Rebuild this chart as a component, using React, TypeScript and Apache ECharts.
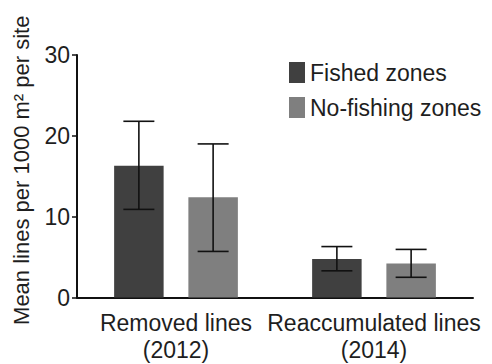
import React, { useEffect, useRef } from "react";
import * as echarts from "echarts";

const categories = ["Removed lines\n(2012)", "Reaccumulated lines\n(2014)"];
const seriesNames = ["Fished zones", "No-fishing zones"];
const fishedMean = [16.3, 4.75];
const fishedLow = [10.9, 3.3];
const fishedHigh = [21.8, 6.3];
const noFishMean = [12.4, 4.2];
const noFishLow = [5.7, 2.5];
const noFishHigh = [19.0, 5.95];
const yTicks = [0, 10, 20, 30];

const FONT = "'Liberation Sans', Arial, Helvetica, sans-serif";
const TEXT = "#1e1e1e";

export default function App() {
  const ref = useRef<HTMLDivElement>(null);
  useEffect(() => {
    if (!ref.current) return;
    const chart = echarts.init(ref.current, null, { renderer: "svg" });
    const errData: number[][] = [];
    categories.forEach((_, i) => {
      errData.push([i, fishedLow[i], fishedHigh[i], -1]);
      errData.push([i, noFishLow[i], noFishHigh[i], 1]);
    });
    chart.setOption({
      animation: false,
      textStyle: { fontFamily: FONT },
      grid: { left: 77, right: 19, top: 55, bottom: 66.5 },
      legend: {
        data: seriesNames,
        orient: "vertical",
        left: 289,
        top: 61,
        padding: 0,
        itemWidth: 16,
        itemHeight: 21,
        itemGap: 12,
        textStyle: { fontSize: 23, color: TEXT, fontFamily: FONT },
        icon: "rect",
      },
      xAxis: {
        type: "category",
        data: categories,
        axisLine: { lineStyle: { color: "#111", width: 2 } },
        axisTick: { alignWithLabel: true, length: 5, lineStyle: { color: "#111", width: 1.5 } },
        axisLabel: { fontSize: 23, color: TEXT, lineHeight: 27, margin: 12, fontFamily: FONT, interval: 0 },
      },
      yAxis: {
        type: "value",
        min: yTicks[0],
        max: yTicks[yTicks.length - 1],
        interval: 10,
        name: "Mean lines per 1000 m² per site",
        nameLocation: "middle",
        nameGap: 45,
        nameTextStyle: { fontSize: 22, color: TEXT, fontFamily: FONT, padding: [0, 0, 0, 12] },
        axisLine: { show: true, lineStyle: { color: "#111", width: 2 } },
        axisTick: { show: true, length: 5, lineStyle: { color: "#111", width: 1.5 } },
        axisLabel: { fontSize: 23, color: TEXT, margin: 7, fontFamily: FONT },
        splitLine: { show: false },
      },
      series: [
        {
          name: seriesNames[0],
          type: "bar",
          data: fishedMean,
          barWidth: "25%",
          barGap: "50%",
          itemStyle: { color: "#404040" },
        },
        {
          name: seriesNames[1],
          type: "bar",
          data: noFishMean,
          barWidth: "25%",
          barGap: "50%",
          itemStyle: { color: "#7f7f7f" },
        },
        {
          type: "custom",
          data: errData,
          z: 10,
          renderItem: (params: any, api: any) => {
            const i = api.value(0);
            const low = api.value(1);
            const high = api.value(2);
            const side = api.value(3);
            const band = api.size([1, 0])[0];
            const off = band * 0.1875 * side;
            const pLow = api.coord([i, low]);
            const pHigh = api.coord([i, high]);
            const x = pLow[0] + off;
            const hw = 15.5;
            const style = { stroke: "#111", lineWidth: 1.6, fill: "none" };
            return {
              type: "group",
              children: [
                { type: "line", shape: { x1: x, y1: pLow[1], x2: x, y2: pHigh[1] }, style },
                { type: "line", shape: { x1: x - hw, y1: pHigh[1], x2: x + hw, y2: pHigh[1] }, style },
                { type: "line", shape: { x1: x - hw, y1: pLow[1], x2: x + hw, y2: pLow[1] }, style },
              ],
            };
          },
        },
      ],
    });
    return () => chart.dispose();
  }, []);
  return <div ref={ref} style={{ width: 492, height: 364, position: "absolute", left: 0, top: 0 }} />;
}
